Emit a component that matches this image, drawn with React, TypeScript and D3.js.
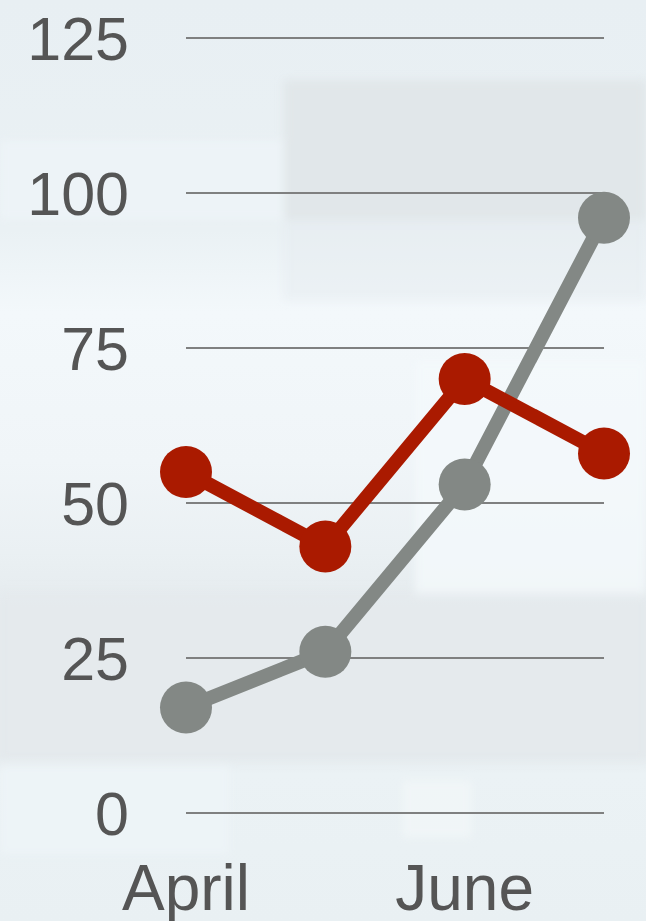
import React from "react";
import * as d3 from "d3";

const months = ["April", "May", "June", "July"];
const shownMonths = ["April", "June"];
const redSeries = [55, 43, 70, 58];
const greySeries = [17, 26, 53, 96];
const yTicks = [0, 25, 50, 75, 100, 125];

const W = 646;
const H = 921;

export default function App() {
  const x = d3.scalePoint<string>().domain(months).range([186, 604]);
  const y = d3.scaleLinear().domain([0, 125]).range([813, 38]);
  const line = d3
    .line<number>()
    .x((_, i) => x(months[i]) as number)
    .y((d) => y(d));

  const series = [
    { values: greySeries, color: "#838885" },
    { values: redSeries, color: "#aa1a00" },
  ];

  return (
    <svg
      width={W}
      height={H}
      style={{ position: "absolute", left: 0, top: 0, display: "block" }}
      fontFamily="'Liberation Sans', Arial, sans-serif"
    >
      <defs>
        <linearGradient id="bg" x1="0" y1="0" x2="0" y2="1">
          <stop offset="0" stopColor="#e8eff3" />
          <stop offset="0.25" stopColor="#eaf1f4" />
          <stop offset="0.34" stopColor="#f3f8fb" />
          <stop offset="0.5" stopColor="#f0f5f8" />
          <stop offset="0.6" stopColor="#eaf0f3" />
          <stop offset="0.66" stopColor="#e5ebee" />
          <stop offset="0.82" stopColor="#e5ebee" />
          <stop offset="0.84" stopColor="#ebf2f5" />
          <stop offset="1" stopColor="#e9f0f3" />
        </linearGradient>
        <filter id="soft" x="-10%" y="-10%" width="120%" height="120%">
          <feGaussianBlur stdDeviation="4" />
        </filter>
      </defs>
      <rect width={W} height={H} fill="url(#bg)" />
      <g filter="url(#soft)">
        <rect x={284} y={80} width={362} height={140} fill="#dfe5e8" opacity={0.85} />
        <rect x={284} y={220} width={362} height={80} fill="#e6ecef" opacity={0.5} />
        <rect x={0} y={140} width={284} height={80} fill="#eef4f7" opacity={0.8} />
        <rect x={415} y={360} width={231} height={235} fill="#f4f9fb" opacity={0.8} />
        <rect x={0} y={590} width={646} height={170} fill="#e3e9ec" opacity={0.3} />
        <rect x={0} y={765} width={230} height={90} fill="#eef5f8" opacity={0.7} />
        <rect x={402} y={780} width={70} height={58} fill="#f1f6f8" opacity={0.8} />
      </g>

      {yTicks.map((t) => (
        <g key={t}>
          <line x1={186} x2={604} y1={y(t)} y2={y(t)} stroke="#7f8080" strokeWidth={2} />
          <text
            x={129}
            y={y(t)}
            dy="0.355em"
            textAnchor="end"
            fontSize={61}
            fill="#555555"
          >
            {t}
          </text>
        </g>
      ))}

      {shownMonths.map((m) => (
        <text
          key={m}
          x={x(m) as number}
          y={910}
          textAnchor="middle"
          fontSize={64}
          fill="#555555"
        >
          {m}
        </text>
      ))}

      {series.map((s, si) => (
        <g key={si}>
          <path d={line(s.values) as string} fill="none" stroke={s.color} strokeWidth={14} />
          {s.values.map((v, i) => (
            <circle key={i} cx={x(months[i]) as number} cy={y(v)} r={26} fill={s.color} />
          ))}
        </g>
      ))}
    </svg>
  );
}
